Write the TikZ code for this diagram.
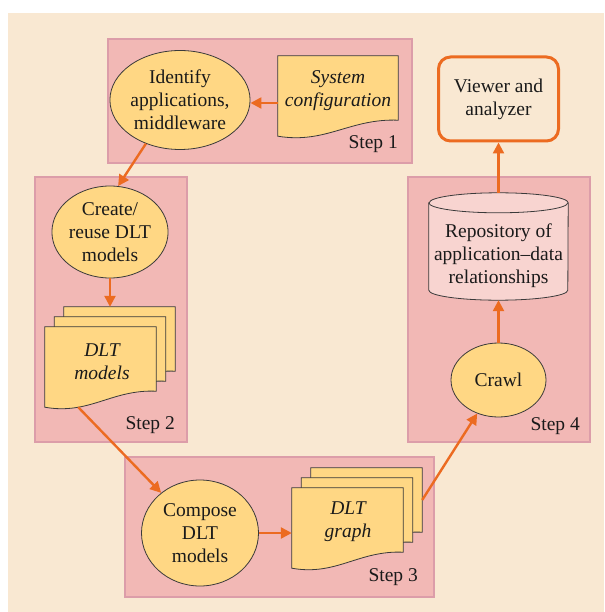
\documentclass[tikz,border=0pt]{standalone}
\usepackage{fontspec}
\setmainfont{Liberation Serif}
\newfontfamily\serifx{Liberation Serif}
\usetikzlibrary{shapes.geometric,arrows.meta,calc}
\pgfdeclarelayer{back}
\pgfdeclarelayer{mid}
\pgfsetlayers{back,mid,main}
\definecolor{bgc}{HTML}{F9E8D2}
\definecolor{stepfill}{HTML}{F2B8B5}
\definecolor{stepborder}{HTML}{DC9DA9}
\definecolor{yel}{HTML}{FFD784}
\definecolor{orng}{HTML}{EC6B21}
\definecolor{cylf}{HTML}{F8D4D0}
\definecolor{edgec}{HTML}{3A3A3A}
\definecolor{txtc}{HTML}{1A1A1A}
\tikzset{
  txt/.style={font=\serifx\fontsize{19.5}{23.2}\selectfont, align=center, text=txtc},
  stepbox/.style={rectangle, draw=stepborder, line width=2.5pt, fill=stepfill, inner sep=0pt},
  proc/.style={ellipse, draw=edgec, line width=0.8pt, fill=yel, inner sep=0pt, txt},
  docbox/.style={rectangle, draw=none, inner sep=0pt, minimum width=#1, minimum height=80pt},
  doctxt/.style={txt, font=\serifx\fontsize{19.5}{23.2}\selectfont\itshape, inner sep=0pt},
  docfill/.style={fill=yel, draw=edgec, line width=0.8pt},
  arr/.style={draw=orng, line width=2.4pt, -{Triangle[length=11pt,width=11pt]}},
  steplbl/.style={txt, anchor=base east, inner sep=0pt},
}
\newcommand\docshape[1]{%
  \path[docfill] (#1.north west) -- (#1.north east) -- ([yshift=16pt]#1.south east)
    .. controls ($(#1.south west)!0.6!(#1.south east)+(0,-18)$) and ($(#1.south west)!0.4!(#1.south east)+(0,8)$) .. (#1.south west) -- cycle;}
\begin{document}
\begin{tikzpicture}[x=1pt,y=-1pt]
\useasboundingbox (0,0) rectangle (604,612);
\begin{pgfonlayer}{back}
  \fill[bgc] (8,13) rectangle (604,612);
  \node[stepbox, minimum width=304pt, minimum height=124pt] (s1) at (260,101) {};
  \node[stepbox, minimum width=152pt, minimum height=265pt] (s2) at (111,309.5) {};
  \node[stepbox, minimum width=309pt, minimum height=140pt] (s3) at (279.5,527) {};
  \node[stepbox, minimum width=182pt, minimum height=265pt] (s4) at (499,309.5) {};
\end{pgfonlayer}

% step labels
\node[steplbl] (l1) at (398,149) {Step 1};
\node[steplbl] (l2) at (175,429) {Step 2};
\node[steplbl] (l3) at (418,581) {Step 3};
\node[steplbl] (l4) at (580,430) {Step 4};

% process ellipses
\node[proc, minimum width=126pt, minimum height=99pt] (identify) at (180,100) {Identify\\applications,\\middleware};
\node[proc, minimum width=115pt, minimum height=92pt] (create) at (110,232) {Create/\\reuse DLT\\models};
\node[proc, minimum width=117pt, minimum height=106pt] (compose) at (200,533) {Compose\\DLT\\models};
\node[proc, minimum width=95pt, minimum height=74pt] (crawl) at (498.5,380) {Crawl};

% viewer
\node[rectangle, rounded corners=12pt, draw=orng, line width=3pt, fill=bgc, txt,
      minimum width=120pt, minimum height=84pt] (viewer) at (498.5,99) {Viewer and\\analyzer};

% documents
\node[docbox=120pt] (sysdoc) at (338,96) {};
\node[docbox=111pt] (m3) at (119.5,347) {};
\node[docbox=111pt] (m2) at (110,357) {};
\node[docbox=111pt] (m1) at (100.5,367) {};
\node[docbox=111pt] (g3) at (366.5,508) {};
\node[docbox=111pt] (g2) at (357,518) {};
\node[docbox=111pt] (g1) at (347.5,528) {};

% repository
\node[rectangle, draw=none, inner sep=0pt, minimum width=139pt, minimum height=107pt] (repo) at (498.5,246.5) {};

\begin{pgfonlayer}{mid}
  \docshape{sysdoc}
  \docshape{m3}
  \docshape{m2}
  \docshape{m1}
  \docshape{g3}
  \docshape{g2}
  \docshape{g1}
  \path[fill=cylf, draw=edgec, line width=0.8pt]
    ([yshift=-10pt]repo.north west) -- ([yshift=10pt]repo.south west)
    arc[start angle=180, end angle=360, x radius=69.5pt, y radius=10pt]
    -- ([yshift=-10pt]repo.north east)
    arc[start angle=0, end angle=180, x radius=69.5pt, y radius=10pt] -- cycle;
  \draw[edgec, line width=0.8pt] ([yshift=-10pt]repo.north west)
    arc[start angle=180, end angle=360, x radius=69.5pt, y radius=10pt];
\end{pgfonlayer}

\node[doctxt] (systext) at (338,91) {System\\configuration};
\node[doctxt] (mtext) at (102,361.5) {DLT\\models};
\node[doctxt] (gtext) at (348,521.5) {DLT\\graph};
\node[txt, inner sep=0pt] (repotext) at (498.5,256) {Repository of\\application–data\\relationships};

% connectors
\coordinate (sa) at ([yshift=-7pt]sysdoc.west);
\draw[arr] (sa) -- (sa -| identify.east);
\draw[arr] (identify.232) -- (create.80);
\draw[arr] (create.south) -- (create.south |- m3.north);
\coordinate (mb) at ($(m1.south west)!0.3!(m1.south east)$);
\draw[arr] (mb) -- (compose);
\draw[arr] (compose.east) -- (compose.east -| g1.west);
\coordinate (gb) at ([yshift=8pt]g3.east);
\draw[arr] (gb) -- (crawl);
\draw[arr] (crawl.north) -- (repo.south);
\draw[arr] (repo.north) -- (viewer.south);
\end{tikzpicture}
\end{document}
